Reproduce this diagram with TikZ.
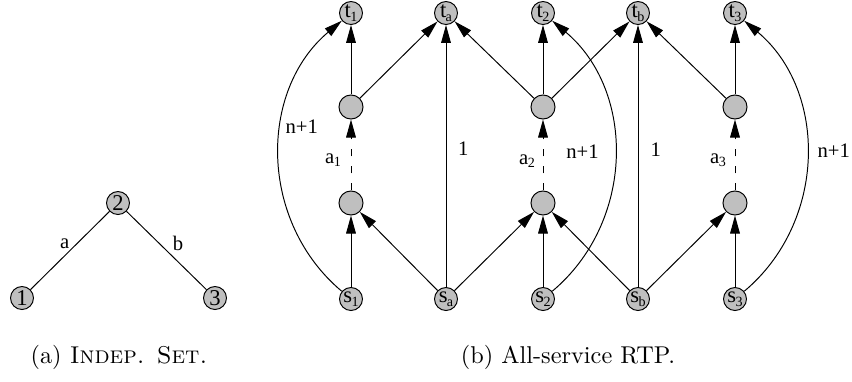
\documentclass[tikz,border=0pt]{standalone}
\usepackage{fontspec}
\newfontfamily\tms{Liberation Serif}
\usetikzlibrary{arrows.meta}
\newcommand\mysub[2]{#1\kern-0.03em\raisebox{-0.16em}{\fontsize{5.8}{5.8}\selectfont #2}}
\begin{document}
\begin{tikzpicture}[x=0.4115pt,y=0.4115pt,
  vtx/.style={circle,draw,fill=gray!50,line width=0.4pt,inner sep=0pt,minimum size=9.46pt,font=\tms\fontsize{9.3}{9.3}\selectfont},
  midv/.style={vtx,minimum size=9.9pt},
  lbl/.style={inner sep=0pt,font=\tms\fontsize{8.5}{8.5}\selectfont},
  ln/.style={line width=0.4pt},
  arr/.style={ln,-{Triangle[length=7.4pt,width=4pt]}},
  dsh/.style={arr,dash pattern=on 3pt off 4pt},
  captn/.style={inner sep=0pt,anchor=base,font=\fontsize{10}{12}\selectfont}]
\useasboundingbox (0,0) rectangle (852,-381);
% (a)
\node[vtx] (n1) at (22,-298) {1};
\node[vtx] (n2) at (118,-203) {2};
\node[vtx] (n3) at (215,-298) {3};
\draw[ln] (n2) -- (n1);
\draw[ln] (n2) -- (n3);
\node[lbl] (la) at (64.7,-243.3) {a};
\node[lbl] (lb) at (178,-243.3) {b};
\node[captn] (capa) at (119,-363) {(a) \textsc{Indep. Set.}};
% (b)
\node[vtx] (t1) at (351,-13) {\mysub{t}{1}};
\node[vtx] (ta) at (446,-13) {\mysub{t}{a}};
\node[vtx] (t2) at (543,-13) {\mysub{t}{2}};
\node[vtx] (tb) at (638,-13) {\mysub{t}{b}};
\node[vtx] (t3) at (735,-13) {\mysub{t}{3}};
\node[midv] (u1) at (351,-107) {};
\node[midv] (u2) at (543,-107) {};
\node[midv] (u3) at (735,-107) {};
\node[midv] (l1) at (351,-203) {};
\node[midv] (l2) at (543,-203) {};
\node[midv] (l3) at (735,-203) {};
\node[vtx] (s1) at (351,-299) {\mysub{s}{1}};
\node[vtx] (sa) at (446,-299) {\mysub{s}{a}};
\node[vtx] (s2) at (543,-299) {\mysub{s}{2}};
\node[vtx] (sb) at (638,-299) {\mysub{s}{b}};
\node[vtx] (s3) at (735,-299) {\mysub{s}{3}};
% upper edges
\draw[arr] (u1) -- (t1);
\draw[arr] (u1) -- (ta);
\draw[arr] (sa) -- (ta);
\draw[arr] (u2) -- (ta);
\draw[arr] (u2) -- (t2);
\draw[arr] (u2) -- (tb);
\draw[arr] (sb) -- (tb);
\draw[arr] (u3) -- (tb);
\draw[arr] (u3) -- (t3);
% dashed
\draw[dsh] (l1) -- (u1);
\draw[dsh] (l2) -- (u2);
\draw[dsh] (l3) -- (u3);
% lower edges
\draw[arr] (s1) -- (l1);
\draw[arr] (sa) -- (l1);
\draw[arr] (sa) -- (l2);
\draw[arr] (s2) -- (l2);
\draw[arr] (sb) -- (l2);
\draw[arr] (sb) -- (l3);
\draw[arr] (s3) -- (l3);
% curves
\draw[arr] (s1) to[out=140,in=220,looseness=1.03] (t1);
\draw[arr] (s2) to[out=40,in=-40,looseness=1.03] (t2);
\draw[arr] (s3) to[out=40,in=-40,looseness=1.03] (t3);
% labels
\node[lbl] (c1) at (301.7,-127) {n+1};
\node[lbl] (c2) at (582.5,-151.7) {n+1};
\node[lbl] (c3) at (833.8,-150.8) {n+1};
\node[lbl] (o1) at (463.3,-149) {1};
\node[lbl] (o2) at (655.8,-150) {1};
\node[lbl] (a1) at (333,-160) {\mysub{a}{1}};
\node[lbl] (a2) at (527,-161) {\mysub{a}{2}};
\node[lbl] (a3) at (718,-160) {\mysub{a}{3}};
\node[captn] (capb) at (568,-363) {(b) All-service RTP.};
\end{tikzpicture}
\end{document}
